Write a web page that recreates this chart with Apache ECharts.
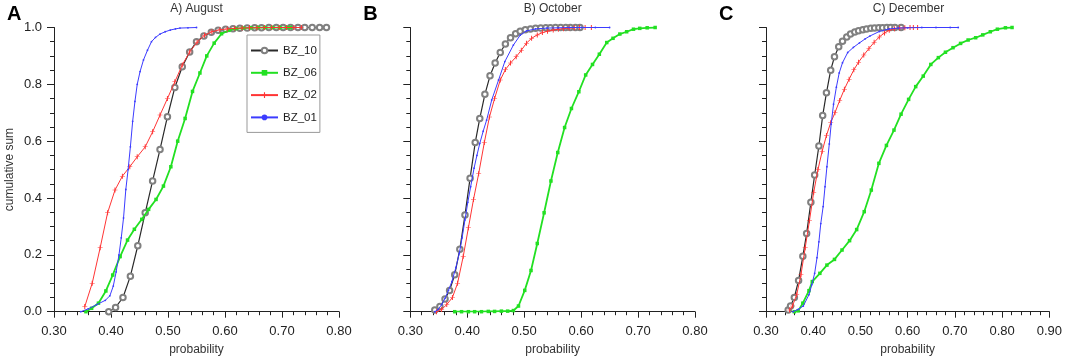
<!DOCTYPE html>
<html>
<head>
<meta charset="utf-8">
<script src="https://cdn.jsdelivr.net/npm/echarts@6/dist/echarts.min.js"></script>
<style>
  html, body { margin: 0; padding: 0; background: #fff; }
  #chart { width: 1065px; height: 361px; }
</style>
</head>
<body>
<div id="chart"></div>
<script>
  // [probability, cumulative sum]
  const aug10 = [[0.396,0],[0.408,0.015],[0.421,0.05],[0.434,0.125],[0.447,0.232],[0.460,0.348],[0.473,0.46],[0.486,0.571],[0.499,0.686],[0.512,0.789],[0.525,0.862],[0.538,0.914],[0.550,0.95],[0.563,0.97],[0.576,0.983],[0.588,0.99],[0.601,0.994],[0.614,0.996],[0.626,0.997],[0.639,0.998],[0.652,0.999],[0.664,0.999],[0.677,1],[0.690,1],[0.702,1],[0.715,1],[0.728,1],[0.740,1],[0.753,1],[0.766,1],[0.778,1]];
  const aug06 = [[0.356,0],[0.366,0.012],[0.378,0.03],[0.391,0.073],[0.403,0.129],[0.416,0.194],[0.429,0.252],[0.441,0.29],[0.454,0.325],[0.466,0.36],[0.479,0.395],[0.492,0.442],[0.505,0.51],[0.517,0.6],[0.530,0.68],[0.543,0.775],[0.556,0.84],[0.568,0.9],[0.581,0.945],[0.594,0.978],[0.607,0.99],[0.619,0.996],[0.632,0.998],[0.645,0.999],[0.658,1],[0.670,1],[0.683,1],[0.696,1],[0.709,1],[0.715,1]];
  const aug02 = [[0.354,0.018],[0.367,0.1],[0.381,0.225],[0.394,0.348],[0.407,0.428],[0.420,0.477],[0.433,0.51],[0.446,0.545],[0.460,0.58],[0.473,0.633],[0.486,0.692],[0.499,0.75],[0.512,0.809],[0.525,0.868],[0.538,0.914],[0.551,0.948],[0.564,0.973],[0.577,0.985],[0.591,0.992],[0.604,0.995],[0.617,0.997],[0.630,0.998],[0.643,0.999],[0.656,0.999],[0.669,1],[0.682,1],[0.695,1],[0.708,1],[0.721,1],[0.734,1]];
  const aug01 = [[0.347,0],[0.36,0.01],[0.375,0.025],[0.39,0.04],[0.398,0.056],[0.404,0.09],[0.409,0.14],[0.414,0.2],[0.418,0.26],[0.422,0.33],[0.426,0.43],[0.430,0.5],[0.434,0.58],[0.438,0.67],[0.442,0.74],[0.446,0.8],[0.451,0.845],[0.457,0.886],[0.464,0.92],[0.471,0.95],[0.478,0.965],[0.486,0.977],[0.495,0.985],[0.504,0.991],[0.513,0.995],[0.521,0.998],[0.535,0.999],[0.55,1]];

  const oct10 = [[0.343,0.006],[0.352,0.018],[0.361,0.045],[0.369,0.075],[0.378,0.13],[0.387,0.22],[0.396,0.34],[0.405,0.47],[0.414,0.595],[0.422,0.68],[0.431,0.765],[0.440,0.83],[0.449,0.875],[0.458,0.912],[0.467,0.942],[0.476,0.964],[0.485,0.978],[0.493,0.987],[0.502,0.992],[0.511,0.995],[0.520,0.997],[0.529,0.998],[0.538,0.999],[0.546,0.999],[0.555,1],[0.564,1],[0.573,1],[0.581,1],[0.590,1],[0.598,1]];
  const oct06 = [[0.378,0],[0.390,0],[0.402,0],[0.413,0],[0.425,0],[0.437,0.001],[0.448,0.001],[0.460,0.002],[0.471,0.002],[0.481,0.004],[0.490,0.02],[0.501,0.075],[0.512,0.145],[0.523,0.24],[0.535,0.348],[0.547,0.46],[0.559,0.56],[0.571,0.648],[0.583,0.715],[0.596,0.774],[0.608,0.833],[0.620,0.87],[0.632,0.906],[0.645,0.947],[0.656,0.962],[0.668,0.977],[0.680,0.985],[0.692,0.994],[0.703,0.997],[0.716,0.999],[0.730,1]];
  const oct02 = [[0.346,0],[0.355,0.008],[0.364,0.025],[0.374,0.05],[0.383,0.1],[0.393,0.195],[0.402,0.295],[0.411,0.395],[0.420,0.485],[0.430,0.595],[0.439,0.685],[0.448,0.75],[0.458,0.815],[0.467,0.852],[0.476,0.875],[0.486,0.897],[0.495,0.92],[0.504,0.945],[0.513,0.962],[0.523,0.974],[0.532,0.982],[0.541,0.987],[0.551,0.991],[0.560,0.994],[0.569,0.996],[0.579,0.998],[0.588,0.999],[0.597,1],[0.607,1],[0.618,1]];
  const oct01 = [[0.343,0],[0.349,0.008],[0.355,0.025],[0.361,0.047],[0.367,0.075],[0.373,0.106],[0.380,0.155],[0.386,0.205],[0.391,0.26],[0.396,0.323],[0.401,0.385],[0.406,0.44],[0.412,0.505],[0.417,0.55],[0.422,0.592],[0.428,0.635],[0.434,0.674],[0.443,0.745],[0.455,0.815],[0.466,0.88],[0.481,0.938],[0.493,0.973],[0.504,0.988],[0.52,0.995],[0.54,0.998],[0.56,0.999],[0.58,1],[0.6,1],[0.625,1],[0.65,1]];

  const dec10 = [[0.347,0.006],[0.352,0.02],[0.360,0.05],[0.369,0.11],[0.378,0.195],[0.386,0.275],[0.395,0.385],[0.403,0.481],[0.412,0.583],[0.420,0.69],[0.428,0.77],[0.437,0.85],[0.445,0.897],[0.454,0.932],[0.462,0.952],[0.471,0.967],[0.479,0.977],[0.488,0.984],[0.496,0.989],[0.505,0.992],[0.513,0.995],[0.522,0.997],[0.530,0.998],[0.539,0.999],[0.547,0.999],[0.556,1],[0.564,1],[0.573,1],[0.586,1]];
  const dec06 = [[0.360,0],[0.368,0.003],[0.378,0.03],[0.391,0.074],[0.398,0.106],[0.414,0.135],[0.429,0.164],[0.445,0.184],[0.461,0.217],[0.477,0.25],[0.492,0.289],[0.508,0.352],[0.523,0.428],[0.539,0.522],[0.555,0.585],[0.571,0.639],[0.586,0.695],[0.602,0.747],[0.617,0.792],[0.633,0.829],[0.649,0.87],[0.665,0.894],[0.680,0.913],[0.696,0.929],[0.712,0.944],[0.728,0.956],[0.744,0.964],[0.759,0.974],[0.775,0.985],[0.790,0.994],[0.807,0.999],[0.821,1]];
  const dec02 = [[0.350,0.006],[0.356,0.02],[0.365,0.06],[0.374,0.13],[0.383,0.225],[0.392,0.32],[0.401,0.42],[0.410,0.5],[0.419,0.565],[0.428,0.62],[0.437,0.665],[0.446,0.7],[0.456,0.743],[0.466,0.783],[0.476,0.818],[0.486,0.851],[0.496,0.878],[0.507,0.903],[0.518,0.926],[0.529,0.948],[0.540,0.967],[0.551,0.981],[0.561,0.99],[0.572,0.996],[0.583,0.998],[0.594,0.999],[0.605,1],[0.612,1],[0.621,1]];
  const dec01 = [[0.357,0],[0.368,0.008],[0.379,0.02],[0.391,0.06],[0.397,0.095],[0.403,0.135],[0.408,0.19],[0.412,0.246],[0.416,0.31],[0.421,0.37],[0.425,0.44],[0.429,0.51],[0.434,0.59],[0.438,0.66],[0.443,0.73],[0.449,0.79],[0.455,0.84],[0.462,0.876],[0.473,0.912],[0.485,0.93],[0.498,0.946],[0.51,0.96],[0.52,0.97],[0.54,0.986],[0.56,0.995],[0.58,0.998],[0.6,0.999],[0.63,1],[0.66,1],[0.69,1],[0.707,1]];

  const seriesNames = ['BZ_10', 'BZ_06', 'BZ_02', 'BZ_01'];
  const panelLetters = ['A', 'B', 'C'];
  const panelTitles = ['A) August', 'B) October', 'C) December'];
  const xRanges = [[0.3, 0.8], [0.3, 0.8], [0.3, 0.9]];
  const panelData = [
    [aug10, aug06, aug02, aug01],
    [oct10, oct06, oct02, oct01],
    [dec10, dec06, dec02, dec01]
  ];

  const FONT = '"Liberation Sans", Arial, sans-serif';
  const grids = [
    { left: 54, top: 27.5, width: 285, height: 284.2 },
    { left: 410.3, top: 27.5, width: 284.7, height: 284.2 },
    { left: 766, top: 27.5, width: 285, height: 284.2 }
  ];

  const styles = [
    { color: '#808080', line: '#2a2a2a', width: 1.2, symbol: 'emptyCircle', size: 5.5, border: 0.8 },
    { color: '#22e022', line: '#22e022', width: 1.8, symbol: 'rect', size: 3.5, border: 0 },
    { color: '#ff3535', line: '#ff3535', width: 1, symbol: 'path://M3.6,0h0.8v8h-0.8zM2,3.6h4v0.8h-4z', size: 5, border: 0 },
    { color: '#3c3cff', line: '#3c3cff', width: 1, symbol: 'circle', size: 1.8, border: 0 }
  ];

  const axisLine = { lineStyle: { color: '#222', width: 1 } };

  const xAxis = xRanges.map((r, i) => ({
    type: 'value',
    gridIndex: i,
    min: r[0],
    max: r[1],
    interval: 0.1,
    name: 'probability',
    nameLocation: 'middle',
    nameGap: 32,
    nameTextStyle: { fontFamily: FONT, fontSize: 12, color: '#333' },
    axisLine: axisLine,
    axisTick: { show: true, inside: false, length: 6, lineStyle: { color: '#222' } },
    minorTick: { show: true, splitNumber: 5, length: 3.5, lineStyle: { color: '#222' } },
    splitLine: { show: false },
    axisLabel: {
      margin: 13,
      fontFamily: FONT,
      fontSize: 13,
      color: '#222',
      formatter: v => v.toFixed(2)
    }
  }));

  const yAxis = grids.map((g, i) => ({
    type: 'value',
    gridIndex: i,
    min: 0,
    max: 1,
    interval: 0.2,
    name: i === 0 ? 'cumulative sum' : '',
    nameLocation: 'middle',
    nameGap: 38,
    nameTextStyle: { fontFamily: FONT, fontSize: 12, color: '#333' },
    axisLine: axisLine,
    axisTick: { show: true, inside: false, length: 7, lineStyle: { color: '#222' } },
    minorTick: { show: true, splitNumber: 4, length: 4, lineStyle: { color: '#222' } },
    splitLine: { show: false },
    axisLabel: {
      show: i === 0,
      margin: 12,
      fontFamily: FONT,
      fontSize: 13,
      color: '#222',
      formatter: v => v.toFixed(1)
    }
  }));

  const series = [];
  panelData.forEach((sets, p) => {
    sets.forEach((data, k) => {
      const s = styles[k];
      series.push({
        name: seriesNames[k],
        type: 'line',
        xAxisIndex: p,
        yAxisIndex: p,
        data: data,
        symbol: s.symbol,
        symbolSize: s.size,
        showSymbol: true,
        animation: false,
        z: 2 + k,
        itemStyle: { color: s.color, borderWidth: s.border },
        lineStyle: { color: s.line, width: s.width }
      });
    });
  });

  const graphic = [];
  grids.forEach((g, i) => {
    graphic.push({
      type: 'text',
      x: g.left - 47,
      y: 14,
      style: {
        text: panelLetters[i],
        font: 'bold 20px ' + FONT,
        fill: '#000',
        verticalAlign: 'middle'
      }
    });
    graphic.push({
      type: 'text',
      x: g.left + g.width / 2,
      y: 9,
      style: {
        text: panelTitles[i],
        font: '12px ' + FONT,
        fill: '#333',
        align: 'center',
        verticalAlign: 'middle'
      }
    });
  });

  const chart = echarts.init(document.getElementById('chart'));
  chart.setOption({
    backgroundColor: '#fff',
    animation: false,
    grid: grids,
    xAxis: xAxis,
    yAxis: yAxis,
    legend: {
      data: seriesNames,
      orient: 'vertical',
      left: 247,
      top: 35,
      itemWidth: 27,
      itemHeight: 7,
      itemGap: 10.3,
      padding: [9.5, 3, 9, 3],
      borderColor: '#999',
      borderWidth: 1,
      selectedMode: false,
      textStyle: { fontFamily: FONT, fontSize: 11.5, color: '#222' }
    },
    graphic: graphic,
    series: series
  });
  window.addEventListener('resize', () => chart.resize());
</script>
</body>
</html>
